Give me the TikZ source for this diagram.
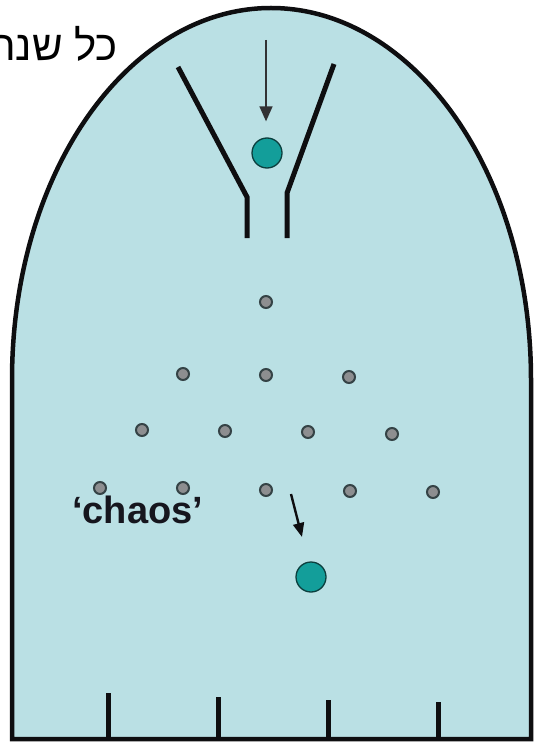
\documentclass[tikz,border=0pt]{standalone}
\usepackage{fontspec}
\setmainfont{Liberation Sans}
\newfontfamily\hebfont[Script=Hebrew]{Liberation Sans}
\TeXXeTstate=1
\usepackage{xcolor}
\usetikzlibrary{arrows.meta, positioning}
\definecolor{board}{HTML}{BAE0E4}
\definecolor{ink}{HTML}{0E0E10}
\definecolor{teal}{HTML}{139E9A}
\definecolor{tealdark}{HTML}{0B3F3E}
\definecolor{pegfill}{HTML}{8D8E90}
\definecolor{pegline}{HTML}{354346}
\definecolor{word}{HTML}{16161E}
\tikzset{
  wall/.style={draw=ink, line width=4.5pt, fill=board},
  funnel/.style={draw=ink, line width=5pt},
  bin/.style={draw=ink, line width=5pt},
  ball/.style={circle, fill=teal, draw=tealdark, line width=1.3pt,
    minimum size=30pt, inner sep=0pt},
  peg/.style={circle, fill=pegfill, draw=pegline, line width=2pt,
    minimum size=12pt, inner sep=0pt},
  arrow/.style={-{Triangle[length=15pt,width=13pt]}, line width=1.4pt, draw=ink!85},
  kick/.style={-{Triangle[length=14pt,width=11pt]}, line width=2.4pt, draw=ink},
  chaostext/.style={font=\bfseries\fontsize{38}{40}\selectfont, text=word, inner sep=0pt},
}

\begin{document}
\begin{tikzpicture}[x=1pt, y=-1pt]
  \useasboundingbox (0,0) rectangle (539,746);

  % board outline
  \draw[wall] (12,739) -- (12,380) .. controls (12,170) and (130,8) .. (271,8)
    .. controls (412,8) and (531,170) .. (531,380) -- (531,739) -- cycle;

  % funnel
  \draw[funnel] (178,67) -- (247,197) -- (247,238);
  \draw[funnel] (334,64) -- (287,193) -- (287,238);

  % bins
  \draw[bin] (108,739) -- (108,693);
  \draw[bin] (218,739) -- (218,697);
  \draw[bin] (328,739) -- (328,700);
  \draw[bin] (438,739) -- (438,702);

  % pegs
  \node[peg] (p0)  at (266,302) {};
  \node[peg] (p1a) at (183,374) {};
  \node[peg] (p1b) at (266,375) {};
  \node[peg] (p1c) at (349,377) {};
  \node[peg] (p2a) at (142,430) {};
  \node[peg] (p2b) at (225,431) {};
  \node[peg] (p2c) at (308,432) {};
  \node[peg] (p2d) at (392,434) {};
  \node[peg] (p3a) at (100,488) {};
  \node[peg] (p3b) at (183,488) {};
  \node[peg] (p3c) at (266,490) {};
  \node[peg] (p3d) at (350,491) {};
  \node[peg] (p3e) at (433,492) {};

  % balls
  \node[ball] (ballin)  at (267,153) {};
  \node[ball] (ballout) at (311,577) {};

  \coordinate (drop) at (266,40);
  \draw[arrow, shorten >=16pt] (drop) -- (drop |- ballin.north);

  \coordinate (kickstart) at (291,494);
  \coordinate (kickend) at (302,537);
  \draw[kick] (kickstart) -- (kickend);

  % labels
  \node[chaostext, anchor=base west] (chaos) at (72,523) {‘chaos’};
  \node[anchor=base east, inner sep=0pt, font=\fontsize{42}{44}\selectfont] (yearly)
    at (118,61) {\hebfont\beginR כל שנה\endR};
\end{tikzpicture}
\end{document}
